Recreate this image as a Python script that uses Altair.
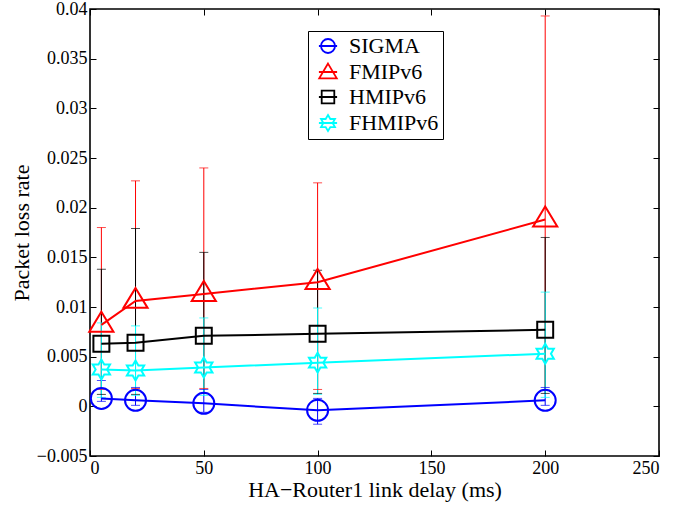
import altair as alt
import pandas as pd

delays = [5, 20, 50, 100, 200]
series_names = ["SIGMA", "FMIPv6", "HMIPv6", "FHMIPv6"]
series_colors = ["#0000ff", "#ff0000", "#000000", "#00ffff"]

sigma_val = [0.0008, 0.0006, 0.0003, -0.0004, 0.0006]
sigma_lo = [0.0005, 0.0001, -0.0006, -0.0018, 0.0001]
sigma_hi = [0.0026, 0.0019, 0.0017, 0.0008, 0.0019]

fmip_val = [0.0082, 0.0106, 0.0113, 0.0125, 0.0188]
fmip_lo = [0.0017, 0.0018, 0.0018, 0.0017, 0.0016]
fmip_hi = [0.0180, 0.0227, 0.0240, 0.0225, 0.0393]

hmip_val = [0.0063, 0.0064, 0.0071, 0.0073, 0.0077]
hmip_lo = [0.0012, 0.0012, 0.0013, 0.0013, 0.0013]
hmip_hi = [0.0138, 0.0179, 0.0155, 0.0137, 0.0170]

fhmip_val = [0.0037, 0.0036, 0.0039, 0.0044, 0.0053]
fhmip_lo = [0.0009, 0.0011, 0.0011, 0.0012, 0.0009]
fhmip_hi = [0.0084, 0.0081, 0.0089, 0.0099, 0.0115]

x_ticks = [0, 50, 100, 150, 200, 250]
y_ticks = [-0.005, 0, 0.005, 0.01, 0.015, 0.02, 0.025, 0.03, 0.035, 0.04]

rows = []
for name, vals, los, his in [
    ("SIGMA", sigma_val, sigma_lo, sigma_hi),
    ("FMIPv6", fmip_val, fmip_lo, fmip_hi),
    ("HMIPv6", hmip_val, hmip_lo, hmip_hi),
    ("FHMIPv6", fhmip_val, fhmip_lo, fhmip_hi),
]:
    for d, v, lo, hi in zip(delays, vals, los, his):
        rows.append({"series": name, "x": d, "val": v, "lo": lo, "hi": hi})
df = pd.DataFrame(rows)

FONT = "Liberation Serif"

# marker paths (unit = half symbol width)
hexa = "M0,-0.95 L0.274,-0.475 L0.823,-0.475 L0.548,0 L0.823,0.475 L0.274,0.475 L0,0.95 L-0.274,0.475 L-0.823,0.475 L-0.548,0 L-0.823,-0.475 L-0.274,-0.475 Z"
plot_shapes = [
    "circle",
    "M0,-1.25 L1.15,0.65 L-1.15,0.65 Z",
    "M-0.76,-0.76 L0.76,-0.76 L0.76,0.76 L-0.76,0.76 Z",
    hexa,
]
hexa_l = "M0,-1.15 L0.332,-0.575 L0.996,-0.575 L0.664,0 L0.996,0.575 L0.332,0.575 L0,1.15 L-0.332,0.575 L-0.996,0.575 L-0.664,0 L-0.996,-0.575 L-0.332,-0.575 Z M-1.3,0 L1.3,0"
legend_shapes = [
    "M-1,0 A1,1 0 1,0 1,0 A1,1 0 1,0 -1,0 Z M-1.3,0 L1.3,0",
    "M0,-1.2 L1.25,0.9 L-1.25,0.9 Z M-1.3,0 L1.3,0",
    "M-0.9,-0.9 L0.9,-0.9 L0.9,0.9 L-0.9,0.9 Z M-1.3,0 L1.3,0",
    hexa_l,
]

xs = alt.Scale(domain=[0, 250], nice=False, zero=False)
ys = alt.Scale(domain=[-0.005, 0.04], nice=False, zero=False)
cs = alt.Scale(domain=series_names, range=series_colors)

x_main_axis = alt.Axis(
    values=x_ticks, orient="bottom", offset=-6, tickSize=6, tickColor="black",
    domain=False, grid=False, labelFont=FONT, labelFontSize=18, labelColor="black",
    labelPadding=3, title="HA\u2212Router1 link delay (ms)", titleFont=FONT,
    titleFontSize=22, titleFontWeight="normal", titleColor="black", titlePadding=2,
)
y_main_axis = alt.Axis(
    values=y_ticks, orient="left", offset=-6, tickSize=6, tickColor="black",
    domain=False, grid=False, format="~g", labelFont=FONT, labelFontSize=18,
    labelColor="black", labelPadding=3, title="Packet loss rate", titleFont=FONT,
    titleFontSize=22, titleFontWeight="normal", titleColor="black", titlePadding=3,
)
x_top_axis = alt.Axis(values=x_ticks, orient="top", offset=-6, tickSize=6,
                      tickColor="black", domain=False, grid=False, labels=False, title=None)
y_right_axis = alt.Axis(values=y_ticks, orient="right", offset=-6, tickSize=6,
                        tickColor="black", domain=False, grid=False, labels=False, title=None)

base = alt.Chart(df)
color_nl = alt.Color("series:N", scale=cs, legend=None)

errbars = base.mark_rule(strokeWidth=1).encode(
    x=alt.X("x:Q", scale=xs, axis=x_main_axis),
    y=alt.Y("lo:Q", scale=ys, axis=y_main_axis),
    y2="hi:Q",
    color=color_nl,
)
cap_hi = base.mark_tick(orient="horizontal", size=9, thickness=1).encode(
    x=alt.X("x:Q", scale=xs, axis=None),
    y=alt.Y("hi:Q", scale=ys, axis=None),
    color=color_nl,
)
cap_lo = base.mark_tick(orient="horizontal", size=9, thickness=1).encode(
    x=alt.X("x:Q", scale=xs, axis=None),
    y=alt.Y("lo:Q", scale=ys, axis=None),
    color=color_nl,
)
lines = base.mark_line(strokeWidth=2).encode(
    x=alt.X("x:Q", scale=xs, axis=None),
    y=alt.Y("val:Q", scale=ys, axis=None),
    color=color_nl,
)
points = base.mark_point(filled=False, size=441, strokeWidth=2, opacity=1).encode(
    x=alt.X("x:Q", scale=xs, axis=None),
    y=alt.Y("val:Q", scale=ys, axis=None),
    color=color_nl,
    shape=alt.Shape("series:N", scale=alt.Scale(domain=series_names, range=plot_shapes), legend=None),
)
leg = alt.Legend(
    title=None, orient="none", legendX=218, legendY=22, padding=4,
    strokeColor="black", fillColor="white", labelFont=FONT, labelFontSize=22,
    labelColor="black", symbolSize=196, symbolStrokeWidth=1.8, symbolOffset=5,
    labelOffset=10, rowPadding=3, symbolFillColor="transparent",
)
legend_layer = base.transform_filter("datum.x < 0").mark_point(
    filled=False, size=196, strokeWidth=1.8, opacity=1
).encode(
    x=alt.X("x:Q", scale=xs, axis=None),
    y=alt.Y("val:Q", scale=ys, axis=None),
    color=alt.Color("series:N", scale=cs, legend=leg),
    shape=alt.Shape("series:N", scale=alt.Scale(domain=series_names, range=legend_shapes), legend=leg),
)
frame_ticks = base.mark_point(opacity=0).encode(
    x=alt.X("x:Q", scale=xs, axis=x_top_axis),
    y=alt.Y("val:Q", scale=ys, axis=y_right_axis),
)

chart = alt.layer(errbars, cap_hi, cap_lo, lines, points, legend_layer, frame_ticks).resolve_scale(
    color="independent", shape="independent"
).resolve_axis(x="independent", y="independent").properties(
    width=569, height=447,
    autosize=alt.AutoSizeParams(type="none"),
    padding={"left": 90, "top": 9, "right": 15, "bottom": 52},
    background="white",
).configure_view(stroke="black", strokeWidth=1.6).configure_axis(
    labelFont=FONT, titleFont=FONT, labelColor="black", titleColor="black"
).configure_legend(labelFont=FONT)

chart.save("out.html", embed_options={"renderer": "svg", "actions": False})
